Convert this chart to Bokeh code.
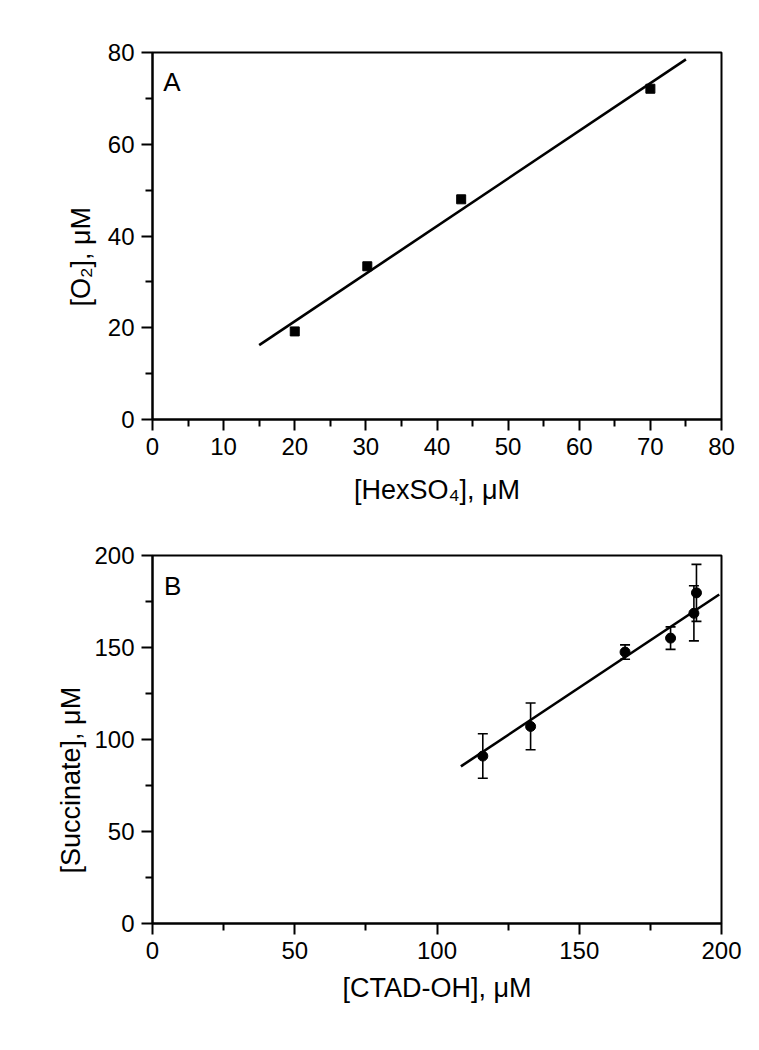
from bokeh.plotting import figure
from bokeh.models import Range1d, FixedTicker, Label, Whisker, TeeHead, ColumnDataSource, Title
from bokeh.layouts import column
from bokeh.embed import file_html
from bokeh.resources import INLINE

# ---- Panel A data ----
hexso4 = [20.0, 30.2, 43.4, 70.0]
o2 = [19.2, 33.4, 48.0, 72.1]
fitA_x = [15.0, 75.0]
fitA_y = [16.2, 78.5]
ticksA_x = [0, 10, 20, 30, 40, 50, 60, 70, 80]
minorA_x = [5, 15, 25, 35, 45, 55, 65, 75]
ticksA_y = [0, 20, 40, 60, 80]
minorA_y = [10, 30, 50, 70]

# ---- Panel B data ----
ctad = [116.1, 132.9, 166.1, 182.1, 190.3, 191.2]
succ = [91.0, 107.1, 147.5, 155.1, 168.6, 179.7]
succ_err = [12.1, 12.7, 3.9, 6.1, 15.0, 15.5]
fitB_x = [108.4, 199.2]
fitB_y = [85.4, 178.8]
ticksB = [0, 50, 100, 150, 200]
minorB = [25, 75, 125, 175]

FONT = "Liberation Sans"
TICK_SIZE = "24px"
TITLE_SIZE = "27px"


def style(p, xt, xm, yt, ym, xlabel):
    p.xgrid.visible = False
    p.ygrid.visible = False
    p.outline_line_color = "black"
    p.outline_line_width = 2
    p.background_fill_color = "white"
    p.border_fill_color = "white"
    p.xaxis.ticker = FixedTicker(ticks=xt, minor_ticks=xm)
    p.yaxis.ticker = FixedTicker(ticks=yt, minor_ticks=ym)
    p.xaxis.axis_label = xlabel
    for ax in (p.xaxis[0], p.yaxis[0]):
        ax.axis_line_width = 2
        ax.axis_line_color = "black"
        ax.major_tick_line_width = 2
        ax.minor_tick_line_width = 2
        ax.major_tick_line_color = "black"
        ax.minor_tick_line_color = "black"
        ax.major_tick_in = 0
        ax.major_tick_out = 11
        ax.minor_tick_in = 0
        ax.minor_tick_out = 7
        ax.major_label_text_font = FONT
        ax.major_label_text_font_size = TICK_SIZE
        ax.major_label_text_color = "black"
        ax.axis_label_text_font = FONT
        ax.axis_label_text_font_size = TITLE_SIZE
        ax.axis_label_text_font_style = "normal"
        ax.axis_label_text_color = "black"
    p.xaxis.major_label_standoff = 7
    p.yaxis.major_label_standoff = 7


def ytitle(text, offset, standoff):
    return Title(text=text, align="left", offset=offset, standoff=standoff,
                 text_font=FONT, text_font_size=TITLE_SIZE, text_font_style="normal",
                 text_color="black")


# ---- Panel A ----
pA = figure(frame_width=569, frame_height=367, output_backend="svg", toolbar_location=None,
            x_range=Range1d(0, 80), y_range=Range1d(0, 80))
pA.min_border_left = 152
pA.min_border_top = 52
pA.min_border_right = 30
pA.min_border_bottom = 100
style(pA, ticksA_x, minorA_x, ticksA_y, minorA_y, "[HexSO\u2084], \u03bcM")
pA.xaxis.axis_label_standoff = 17
pA.add_layout(ytitle("[O\u2082], \u03bcM", 113, 17), "left")
pA.line(fitA_x, fitA_y, line_color="black", line_width=2.6)
pA.scatter(hexso4, o2, marker="square", size=9, fill_color="black", line_color="black")
pA.add_layout(Label(x=1.5, y=73.5, text="A", text_font=FONT, text_font_size="26px",
                    text_color="black", text_baseline="middle"))

# ---- Panel B ----
pB = figure(frame_width=569, frame_height=368, output_backend="svg", toolbar_location=None,
            x_range=Range1d(0, 200), y_range=Range1d(0, 200))
pB.min_border_left = 152
pB.min_border_top = 36
pB.min_border_right = 30
pB.min_border_bottom = 100
style(pB, ticksB, minorB, ticksB, minorB, "[CTAD-OH], \u03bcM")
pB.xaxis.axis_label_standoff = 11
pB.add_layout(ytitle("[Succinate], \u03bcM", 50, 12), "left")
src = ColumnDataSource(dict(x=ctad, y=succ,
                            lo=[s - e for s, e in zip(succ, succ_err)],
                            hi=[s + e for s, e in zip(succ, succ_err)]))
pB.add_layout(Whisker(source=src, base="x", lower="lo", upper="hi",
                      line_color="black", line_width=1.6,
                      lower_head=TeeHead(size=10, line_color="black", line_width=1.6),
                      upper_head=TeeHead(size=10, line_color="black", line_width=1.6)))
pB.line(fitB_x, fitB_y, line_color="black", line_width=2.6)
pB.scatter("x", "y", source=src, marker="circle", size=10, fill_color="black", line_color="black")
pB.add_layout(Label(x=4.0, y=183.4, text="B", text_font=FONT, text_font_size="26px",
                    text_color="black", text_baseline="middle"))

layout = column(pA, pB, spacing=0)
open("out.html", "w").write(file_html(layout, INLINE))
